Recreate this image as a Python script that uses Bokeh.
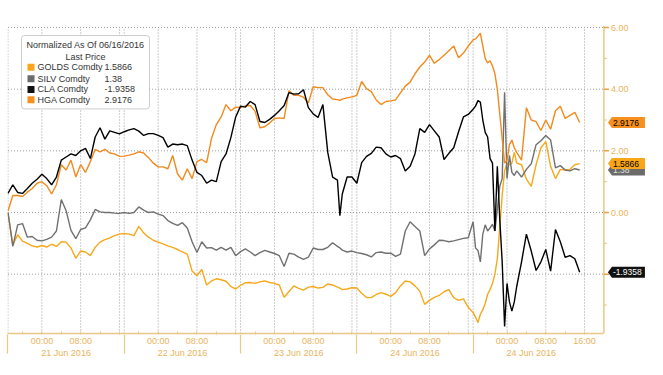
from bokeh.plotting import figure
from bokeh.models import (LinearAxis, FixedTicker, Range1d, BoxAnnotation, Label, ColumnDataSource)
from bokeh.core.properties import value
from bokeh.embed import file_html
from bokeh.resources import INLINE

# ---------------- data (hours since session start 20 Jun 17:00) ----------------
hours = [0, 1, 2, 3, 4, 5, 6, 7, 8, 9,
         10, 11, 12, 13, 14, 15, 16, 17, 18, 19,
         20, 21, 22, 23, 24, 25, 26, 27, 28, 29,
         30, 31, 32, 33, 34, 35, 36, 37, 38, 39,
         40, 41, 42, 43, 44, 45, 46, 47, 48, 49,
         50, 51, 52, 53, 54, 55, 56, 57, 58, 59,
         60, 61, 62, 63, 64, 65, 66, 67, 68,
         68.5,
         69, 70, 71, 72, 73, 74, 75, 76, 77, 78, 79,
         80, 81, 82, 83, 84, 85, 86, 87, 88, 89,
         90, 91, 92, 93, 94, 95, 96,
         96.5, 97, 97.5, 98, 98.5, 99, 99.5, 100, 100.5, 101, 101.5, 102, 102.5, 103, 103.5, 104, 104.5, 105,
         106, 107, 108, 109, 110, 111, 112, 113, 114, 115, 116, 117, 118]

golds = [0.00, -1.05, -0.72, -0.93, -1.00, -1.08, -1.12, -1.07, -1.12, -1.03,
         -1.10, -0.95, -0.96, -1.15, -1.48, -1.25, -1.28, -1.40, -1.13, -0.96,
         -0.88, -0.82, -0.75, -0.70, -0.68, -0.70, -0.75, -0.45, -0.66, -0.80,
         -0.90, -0.96, -1.02, -1.08, -1.13, -1.20, -1.28, -1.35, -1.90, -2.05,
         -1.85, -2.35, -2.22, -2.15, -2.18, -2.23, -2.40, -2.48, -2.36, -2.28,
         -2.27, -2.30, -2.25, -2.22, -2.27, -2.30, -2.35, -2.75, -2.56, -2.38,
         -2.46, -2.52, -2.42, -2.40, -2.45, -2.43, -2.32, -2.35, -2.42,
         -2.45,
         -2.50, -2.48, -2.44, -2.45, -2.62, -2.76, -2.76, -2.66, -2.60, -2.65, -2.72,
         -2.60, -2.38, -2.22, -2.25, -2.38, -2.55, -2.98, -2.85, -2.75, -2.69,
         -2.57, -2.50, -2.76, -2.85, -2.80, -3.08, -3.24,
         -3.40, -3.57, -3.30, -3.15, -2.95, -2.65, -2.50, -2.30, -2.00, -1.50, -0.50, 0.55, 1.35, 1.60, 1.55, 1.60, 1.95, 1.60,
         1.55, 1.08, 0.85, 1.55, 2.10, 2.30, 1.50, 1.10, 1.40, 1.38, 1.40, 1.55, 1.5866]

silv = [0.00, -1.10, -0.40, -0.36, -0.80, -0.78, -0.90, -0.92, -0.87, -0.80,
        -0.60, 0.42, 0.06, -0.58, -0.85, -0.55, -0.50, -0.24, 0.10, 0.02,
        0.00, 0.00, -0.02, -0.03, 0.00, -0.03, 0.00, 0.18, 0.08, 0.00,
        0.02, -0.05, -0.10, -0.26, -0.35, -0.42, -0.33, -0.50, -0.95, -1.30,
        -0.95, -1.15, -1.14, -1.22, -1.13, -1.22, -1.13, -1.40, -1.27, -1.18,
        -1.28, -1.40, -1.30, -1.23, -1.28, -1.33, -1.40, -1.75, -1.32, -1.35,
        -1.45, -1.52, -1.45, -1.15, -1.20, -1.20, -1.13, -0.98, -1.10,
        -1.15,
        -1.22, -1.28, -1.25, -1.30, -1.33, -1.37, -1.44, -1.30, -1.28, -1.32, -1.32,
        -1.42, -1.35, -0.60, -0.30, -0.45, -0.60, -1.40, -1.18, -1.05, -0.90,
        -0.91, -0.95, -0.92, -0.88, -0.84, -0.82, -0.30,
        -1.15, -1.23, -1.60, -0.70, -0.40, -0.60, -0.50, -0.38, -0.60, 0.10, 0.85, 1.10, 3.90, 1.10, 1.85, 1.30, 1.20, 1.35,
        1.15, 1.40, 1.58, 2.20, 2.33, 2.50, 2.35, 1.45, 1.52, 1.38, 1.35, 1.42, 1.38]

cla = [0.62, 0.90, 0.65, 0.62, 0.78, 0.95, 1.08, 1.24, 1.10, 0.90,
       1.15, 1.70, 1.80, 1.90, 1.85, 2.00, 2.08, 1.75, 2.45, 2.75,
       2.38, 2.65, 2.60, 2.55, 2.62, 2.68, 2.72, 2.64, 2.50, 2.56,
       2.56, 2.50, 2.43, 2.12, 2.22, 2.20, 2.22, 2.17, 1.70, 1.30,
       1.20, 0.95, 1.05, 1.00, 1.65, 1.90, 2.43, 3.10, 3.45, 3.42,
       3.60, 3.50, 2.95, 2.92, 3.02, 3.15, 3.30, 3.47, 3.89, 3.84,
       3.85, 3.98, 3.40, 3.20, 3.08, 3.50, 1.95, 1.15, 1.05,
       -0.10,
       0.60, 1.15, 1.15, 0.95, 1.62, 1.82, 1.92, 2.12, 2.10, 1.90, 1.80,
       1.85, 1.75, 1.35, 1.50, 1.90, 2.72, 2.60, 2.85, 2.65, 2.45,
       1.72, 1.92, 2.10, 2.62, 3.10, 3.18, 3.35,
       3.45, 3.63, 3.58, 3.00, 2.60, 2.45, 1.75, 1.60, -0.60, 1.50, -0.20, -1.60, -3.70, -2.30, -2.90, -3.20, -2.90, -2.40,
       -1.60, -0.70, -1.25, -1.88, -1.60, -1.20, -1.90, -0.55, -0.95, -1.45, -1.40, -1.50, -1.9358]

hga = [0.05, 0.55, 0.55, 0.52, 0.66, 0.78, 0.95, 1.00, 0.87, 0.60,
       0.90, 1.55, 1.38, 1.70, 1.15, 1.55, 1.30, 1.65, 2.05, 1.97,
       2.05, 1.93, 1.90, 1.82, 1.83, 1.86, 1.90, 1.97, 1.93, 1.78,
       1.60, 1.48, 1.48, 1.42, 1.85, 1.25, 1.05, 1.42, 1.10, 1.65,
       1.72, 1.62, 2.40, 2.85, 3.10, 3.50, 3.30, 3.42, 3.40, 3.46,
       3.47, 3.28, 2.75, 2.78, 2.90, 3.05, 3.07, 3.05, 3.95, 3.80,
       3.80, 3.74, 3.55, 4.08, 4.05, 4.05, 3.82, 3.68, 3.66,
       3.64,
       3.68, 3.72, 3.75, 3.80, 4.25, 4.02, 3.92, 3.65, 3.50, 3.60, 3.62,
       3.65, 3.88, 4.10, 4.23, 4.50, 4.72, 4.88, 5.10, 4.84, 4.96,
       5.10, 5.25, 5.40, 5.02, 5.17, 5.40, 5.60,
       5.63, 5.72, 5.82, 5.40, 5.00, 4.85, 4.92, 4.75, 4.50, 4.00, 3.20, 2.40, 1.60, 1.70, 2.20, 2.35, 2.10, 1.95,
       1.70, 3.40, 3.00, 2.95, 2.66, 3.00, 2.70, 3.30, 3.45, 3.05, 3.15, 3.25, 2.9176]

series_names = ["GOLDS Comdty", "SILV Comdty", "CLA Comdty", "HGA Comdty"]
last_prices = [1.5866, 1.38, -1.9358, 2.9176]
last_labels = ["1.5866", "1.38", "-1.9358", "2.9176"]
legend_title = ["Normalized As Of 06/16/2016", "Last Price"]

session_starts = [0, 24, 48, 72, 96]
session_mids = [12, 36, 60, 84, 108]
session_labels = ["21 Jun 2016", "22 Jun 2016", "23 Jun 2016", "24 Jun 2016", "24 Jun 2016"]
tick_hours = [3, 7, 11, 15, 19, 23, 27, 31, 35, 39, 43, 47, 51, 55, 59, 63, 67, 71,
              75, 79, 83, 87, 91, 95, 99, 103, 107, 111, 115, 119]
time_labels = {7: "00:00", 15: "08:00", 31: "00:00", 39: "08:00", 55: "00:00", 63: "08:00",
               79: "00:00", 87: "08:00", 103: "00:00", 111: "08:00", 119: "16:00"}
grid_hours = [0, 7, 15, 23, 24, 31, 39, 47, 48, 55, 63, 71, 72, 79, 87, 95, 96, 103, 111, 119]
y_ticks = [-2, 0, 2, 4, 6]
y_tick_labels = ["-2.00", "0.00", "2.00", "4.00", "6.00"]
y_minor = [-3, -1, 1, 3, 5]

# ---------------- layout / styling ----------------
FONT = "Liberation Sans"
AXIS_LINE = "#E8C886"
AXIS_TEXT = "#E9B45C"
TICK_COL = "#EFA040"
GRID = "#9C9C9C"

line_colors = {"GOLDS": "#F7A81B", "SILV": "#707070", "CLA": "#000000", "HGA": "#F28A1E"}
tag_fill = ["#F9A61A", "#6B6B6B", "#111111", "#F7901E"]
tag_text_color = ["#000000", "#E0E0E0", "#FFFFFF", "#000000"]

FRAME_W, FRAME_H = 648, 313
PX_H = 4.845          # pixels per hour
PX_V = 30.83          # pixels per unit
X0 = -0.1
X1 = X0 + FRAME_W / PX_H
Y1 = 6.228
Y0 = Y1 - FRAME_H / PX_V
AXIS_X = 123.0        # position of the value axis, in hours

p = figure(frame_width=FRAME_W, frame_height=FRAME_H,
           x_range=Range1d(X0, X1), y_range=Range1d(Y0, Y1),
           output_backend="svg", toolbar_location=None,
           y_axis_location=None, x_axis_location="below",
           min_border_left=7, min_border_top=20, min_border_right=0, min_border_bottom=0,
           background_fill_color="white", border_fill_color="white",
           outline_line_color=None)
p.xgrid.visible = False
p.ygrid.visible = False

# dotted grid, stopping at the value axis
p.segment(x0=grid_hours, x1=grid_hours, y0=[Y0] * len(grid_hours), y1=[6.0] * len(grid_hours),
          line_color=GRID, line_dash="1 2", line_width=1)
p.segment(x0=[0] * len(y_ticks), x1=[AXIS_X] * len(y_ticks), y0=y_ticks, y1=y_ticks,
          line_color=GRID, line_dash="1 2", line_width=1)

# bottom time axis
xa = p.xaxis[0]
xa.ticker = FixedTicker(ticks=tick_hours, minor_ticks=[])
xa.bounds = (0, AXIS_X)
xa.major_label_overrides = {h: time_labels.get(h, "") for h in tick_hours}
xa.axis_line_color = AXIS_LINE
xa.axis_line_width = 1.5
xa.major_tick_line_color = AXIS_LINE
xa.major_tick_out = 1
xa.major_tick_in = 2
xa.minor_tick_line_color = None
xa.major_label_text_color = AXIS_TEXT
xa.major_label_text_font = FONT
xa.major_label_text_font_size = "9px"
xa.major_label_standoff = 1

# bottom date axis; its minor ticks are the session separators
da = LinearAxis(ticker=FixedTicker(ticks=session_mids, minor_ticks=session_starts),
                major_label_overrides={m: s for m, s in zip(session_mids, session_labels)},
                axis_line_color=None, major_tick_line_color=None,
                minor_tick_line_color=AXIS_LINE, minor_tick_line_width=1.2,
                minor_tick_in=14, minor_tick_out=5,
                major_tick_out=0, major_tick_in=0, major_label_standoff=-6,
                major_label_text_color=AXIS_TEXT, major_label_text_font=FONT,
                major_label_text_font_size="9px")
p.add_layout(da, "below")

# price lines
for key, vals in [("GOLDS", golds), ("SILV", silv), ("HGA", hga), ("CLA", cla)]:
    src = ColumnDataSource(dict(x=hours, y=vals))
    p.line("x", "y", source=src, line_color=line_colors[key], line_width=1.4)

# value axis on the right (drawn inside the extended frame)
p.segment(x0=[AXIS_X], x1=[AXIS_X], y0=[Y0], y1=[6.05], line_color=AXIS_LINE, line_width=1.5)
p.segment(x0=[AXIS_X] * len(y_ticks), x1=[AXIS_X + 5 / PX_H] * len(y_ticks), y0=y_ticks, y1=y_ticks,
          line_color=TICK_COL, line_width=1.5)
p.segment(x0=[AXIS_X] * len(y_minor), x1=[AXIS_X + 3 / PX_H] * len(y_minor), y0=y_minor, y1=y_minor,
          line_color=AXIS_LINE, line_width=1)
p.text(x=[AXIS_X + 7 / PX_H] * len(y_ticks), y=y_ticks, text=y_tick_labels,
       text_font=value(FONT), text_font_size="9px", text_color=AXIS_TEXT,
       text_baseline="middle", text_align="left")

# last-price tags
hh = 5.5 / PX_V
order = [3, 1, 0, 2]
for idx in order:
    v = last_prices[idx]
    xs = [AXIS_X + 4 / PX_H, AXIS_X + 8 / PX_H, AXIS_X + 41 / PX_H, AXIS_X + 41 / PX_H, AXIS_X + 8 / PX_H]
    ys = [v, v + hh, v + hh, v - hh, v - hh]
    p.patch(x=xs, y=ys, fill_color=tag_fill[idx], line_color=None)
    p.text(x=[AXIS_X + 9 / PX_H], y=[v], text=[last_labels[idx]],
           text_font=value(FONT), text_font_size="8.5px", text_color=tag_text_color[idx],
           text_baseline="middle", text_align="left")

# legend box (top-left)
LX0, LX1 = 14, 142
p.add_layout(BoxAnnotation(left=LX0, right=LX1, top=5.74, bottom=3.36,
                           left_units="screen", right_units="screen",
                           fill_color="white", fill_alpha=1.0,
                           line_color="#5A5A5A", line_width=1, border_radius=3))
for txt, yv in zip(legend_title, [5.42, 5.06]):
    p.add_layout(Label(x=(LX0 + LX1) / 2, y=yv, x_units="screen", y_units="data", text=txt,
                       text_align="center", text_baseline="middle", text_font=FONT,
                       text_font_size="9px", text_color="#333333"))
entry_y = [4.71, 4.34, 3.99, 3.66]
for name, lab, col, yv in zip(series_names, last_labels, tag_fill, entry_y):
    p.add_layout(BoxAnnotation(left=20, right=27, top=yv + 0.115, bottom=yv - 0.115,
                               left_units="screen", right_units="screen",
                               fill_color=col, fill_alpha=1.0, line_color=None))
    p.add_layout(Label(x=30, y=yv, x_units="screen", y_units="data", text=name,
                       text_baseline="middle", text_font=FONT, text_font_size="9px",
                       text_color="#333333"))
    p.add_layout(Label(x=97, y=yv, x_units="screen", y_units="data", text=lab,
                       text_baseline="middle", text_font=FONT, text_font_size="9px",
                       text_color="#333333"))

open("out.html", "w").write(file_html(p, INLINE))
